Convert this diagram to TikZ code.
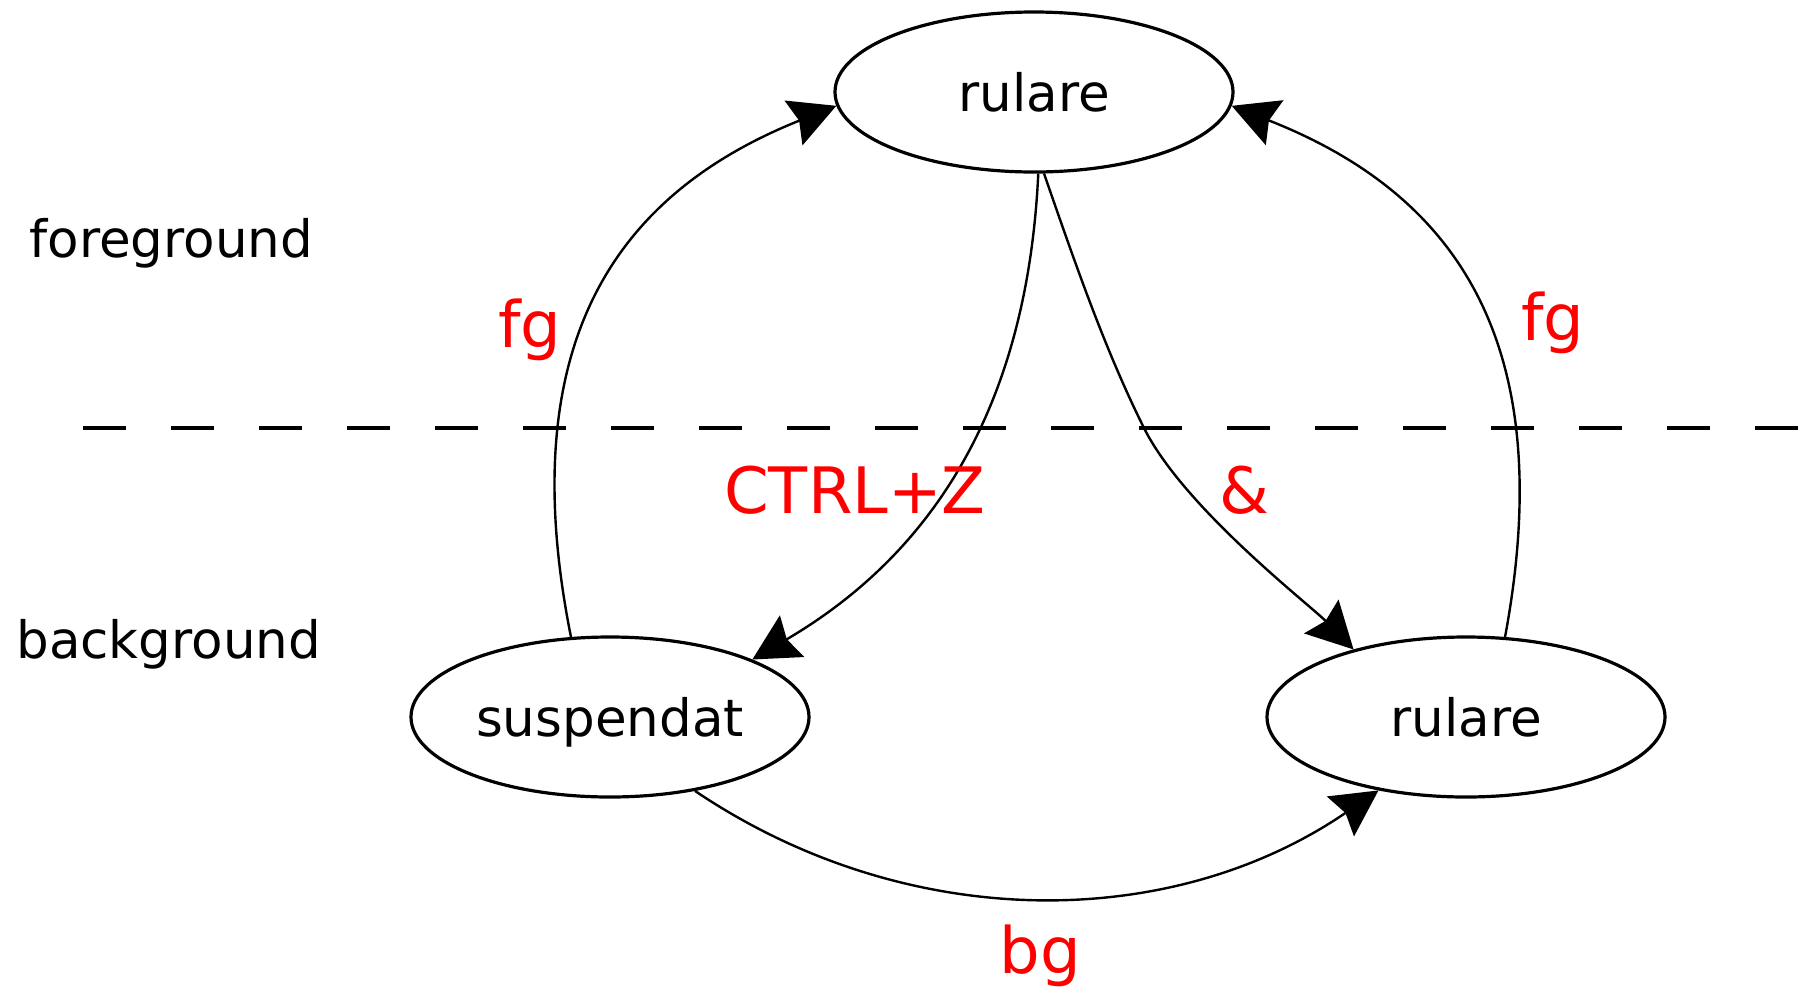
\documentclass[tikz,border=0pt]{standalone}
\usepackage{fontspec}
\setmainfont{DejaVu Sans}
\usetikzlibrary{arrows.meta,shapes.geometric}
\tikzset{
  state/.style={draw, ellipse, line width=1.6pt, minimum width=199pt, minimum height=80pt,
    inner sep=0pt, text depth=0pt, font=\fontsize{25.75}{30}\selectfont},
  side/.style={anchor=base west, inner sep=0pt, font=\fontsize{25.75}{30}\selectfont},
  lbl/.style={anchor=base, inner sep=0pt, text=red, font=\fontsize{32}{38}\selectfont},
  conn/.style={line width=1.2pt, -{Stealth[length=23pt, width=24pt, inset=3pt]}},
  sep/.style={line width=1.6pt, dash pattern=on 21.5pt off 22.5pt}
}
\begin{document}
\begin{tikzpicture}[x=0.5pt, y=-0.5pt]
\useasboundingbox (0,0) rectangle (1801,992);
\fill[white] (0,0) rectangle (1801,992);

% separator
\coordinate (sepL) at (83,428);
\coordinate (sepR) at (1801,428);
\draw[sep] (sepL) -- (sepR);

% side labels
\node[side] (fgside) at (29,257) {foreground};
\node[side] (bgside) at (16,658) {background};

% states
\node[state] (top) at (1034,92) {rulare};
\node[state] (susp) at (610,717) {suspendat};
\node[state] (run) at (1466,717) {rulare};

% connectors
\draw[conn] (susp.116) .. controls (511,337) and (621,192) .. (top.184);
\draw[conn] (run.64) .. controls (1561,337) and (1451,192) .. (top.-4);
\draw[conn] (top.273) .. controls (1028,392) and (944,547) .. (susp.22);
\draw[conn] (top.277) .. controls (1073,257) and (1104,348) .. (1144,428)
   .. controls (1184,508) and (1310,605) .. (run.149);
\draw[conn] (susp.-41) .. controls (904,932) and (1168,934) .. (run.220);

% edge labels
\node[lbl] (lfg1) at (530,347) {fg};
\node[lbl] (lfg2) at (1553,340) {fg};
\node[lbl] (lctrl) at (855,513) {CTRL+Z};
\node[lbl] (lamp) at (1244,513) {\&};
\node[lbl] (lbg) at (1040,973) {bg};
\end{tikzpicture}
\end{document}
